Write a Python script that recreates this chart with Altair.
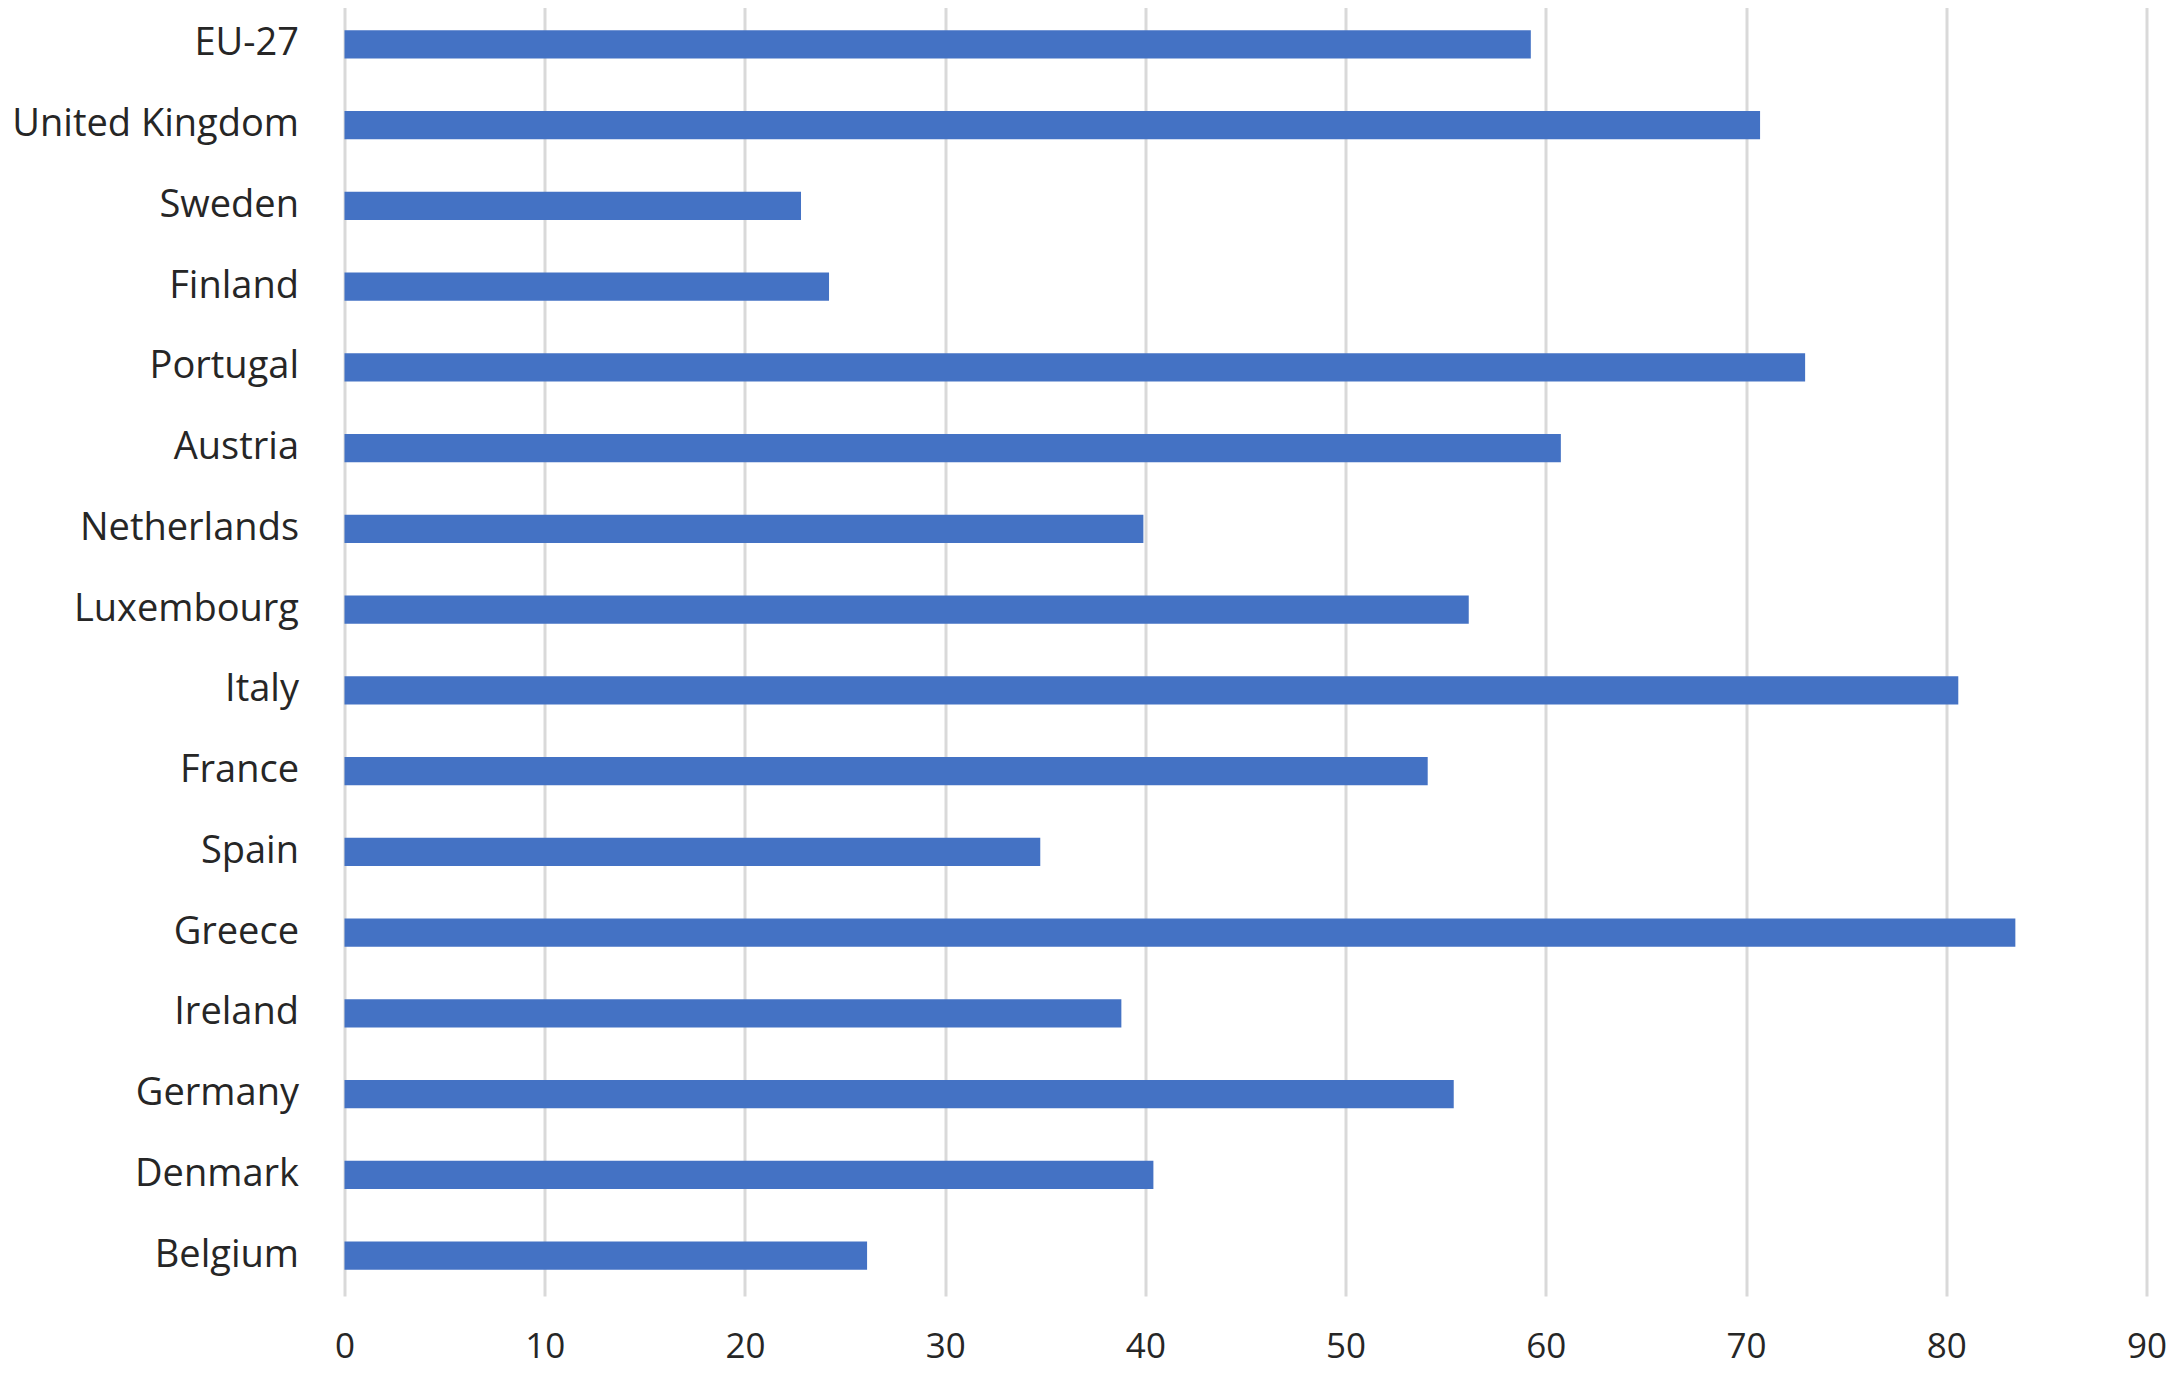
import altair as alt
import pandas as pd

countries = ["EU-27\u00a0", "United Kingdom", "Sweden", "Finland", "Portugal", "Austria",
             "Netherlands", "Luxembourg", "Italy", "France", "Spain", "Greece",
             "Ireland", "Germany", "Denmark", "Belgium"]
values = [59.25, 70.7, 22.8, 24.2, 72.95, 60.75, 39.9, 56.15, 80.6, 54.1, 34.75,
          83.45, 38.8, 55.4, 40.4, 26.1]
x_ticks = [0, 10, 20, 30, 40, 50, 60, 70, 80, 90]

df = pd.DataFrame({"country": countries, "value": values})

FONT = "Open Sans"
TEXT = "#262626"

chart = alt.Chart(df).mark_bar(color="#4472C4").encode(
    y=alt.Y("country:N", sort=countries,
            scale=alt.Scale(paddingInner=0.65, paddingOuter=0.325),
            axis=alt.Axis(title=None, domain=False, ticks=False, grid=False,
                          labelFont=FONT, labelFontSize=38, labelColor=TEXT,
                          labelPadding=46, labelLimit=600)),
    x=alt.X("value:Q", scale=alt.Scale(domain=[0, 90], nice=False),
            axis=alt.Axis(title=None, values=x_ticks, domain=False, ticks=False,
                          grid=True, gridColor="#d9d9d9", gridWidth=3,
                          labelFont=FONT, labelFontSize=35, labelColor=TEXT,
                          labelBaseline="alphabetic",
                          labelPadding=61, labelFlush=False)),
).properties(
    width=1802,
    height=1292,
    autosize=alt.AutoSizeParams(type="none"),
    padding={"left": 336.5, "top": -4, "right": 20, "bottom": 71},
).configure_view(stroke=None)

chart.save("out.html", embed_options={"renderer": "svg", "actions": False})
